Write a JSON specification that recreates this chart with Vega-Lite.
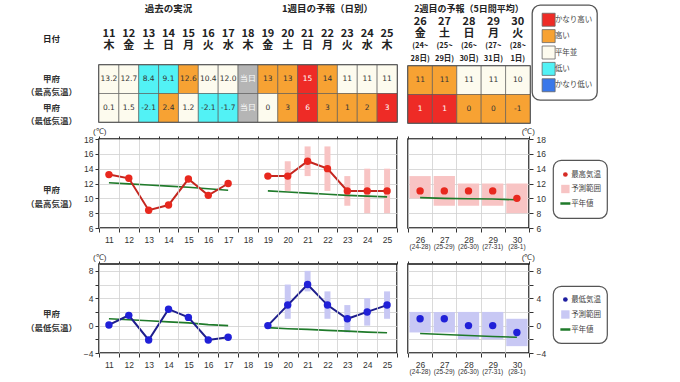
{
"$schema":"https://vega.github.io/schema/vega-lite/v6.json",
"background":"white",
"padding":{"left":24,"top":0,"right":0,"bottom":0},
"config":{
 "font":"Noto Sans CJK JP",
 "view":{"stroke":null},
 "axis":{"labelFont":"Liberation Sans","labelColor":"#333","titleFont":"Noto Sans CJK JP","tickColor":"#333","gridColor":"#d0d0d0","gridWidth":0.8,"labelOverlap":false},
 "title":{"font":"Liberation Sans"}
},
"spacing":1,
"vconcat":[
 {"spacing":-6,"hconcat":[
  {"spacing":7,"hconcat":[
   {"spacing":1,"vconcat":[
    {"width":298,"height":62,
     "data":{"values":[
      {"day":"14","line":"l0","t":"過去の実況"},{"day":"22","line":"l0","t":"1週目の予報（日別）"},
      {"day":"11","line":"l2","t":"11"},{"day":"11","line":"l3","t":"木"},
      {"day":"12","line":"l2","t":"12"},{"day":"12","line":"l3","t":"金"},
      {"day":"13","line":"l2","t":"13"},{"day":"13","line":"l3","t":"土"},
      {"day":"14","line":"l2","t":"14"},{"day":"14","line":"l3","t":"日"},
      {"day":"15","line":"l2","t":"15"},{"day":"15","line":"l3","t":"月"},
      {"day":"16","line":"l2","t":"16"},{"day":"16","line":"l3","t":"火"},
      {"day":"17","line":"l2","t":"17"},{"day":"17","line":"l3","t":"水"},
      {"day":"18","line":"l2","t":"18"},{"day":"18","line":"l3","t":"木"},
      {"day":"19","line":"l2","t":"19"},{"day":"19","line":"l3","t":"金"},
      {"day":"20","line":"l2","t":"20"},{"day":"20","line":"l3","t":"土"},
      {"day":"21","line":"l2","t":"21"},{"day":"21","line":"l3","t":"日"},
      {"day":"22","line":"l2","t":"22"},{"day":"22","line":"l3","t":"月"},
      {"day":"23","line":"l2","t":"23"},{"day":"23","line":"l3","t":"火"},
      {"day":"24","line":"l2","t":"24"},{"day":"24","line":"l3","t":"水"},
      {"day":"25","line":"l2","t":"25"},{"day":"25","line":"l3","t":"木"}]},
     "mark":{"type":"text","fontWeight":"bold","color":"#222","dy":3},
     "encoding":{
      "x":{"field":"day","type":"ordinal","scale":{"type":"band","domain":["11","12","13","14","15","16","17","18","19","20","21","22","23","24","25"],"paddingInner":0,"paddingOuter":0},"axis":null},
      "y":{"field":"line","type":"nominal","scale":{"type":"point","domain":["l0","l1","l2","l3","l4"],"padding":0.5},
           "axis":{"values":["l2"],"labelExpr":"'日付'","ticks":false,"domain":false,"labelAlign":"center","labelPadding":48,"labelOffset":7,"labelFontSize":8.5,"labelFontWeight":"bold","labelFont":"Noto Sans CJK JP","labelColor":"#222","title":null}},
      "text":{"field":"t"},
      "size":{"condition":{"test":"datum.line=='l0'","value":9.5},"value":11}}},
    {"width":298,"height":57,
     "view":{"stroke":"#333","strokeWidth":1.5},
     "data":{"values":[
      {"day":"11","row":"max","label":"13.2","cat":"平年並"},{"day":"12","row":"max","label":"12.7","cat":"平年並"},
      {"day":"13","row":"max","label":"8.4","cat":"低い"},{"day":"14","row":"max","label":"9.1","cat":"低い"},
      {"day":"15","row":"max","label":"12.6","cat":"高い"},{"day":"16","row":"max","label":"10.4","cat":"平年並"},
      {"day":"17","row":"max","label":"12.0","cat":"平年並"},{"day":"18","row":"max","label":"当日","cat":"当日"},
      {"day":"19","row":"max","label":"13","cat":"高い"},{"day":"20","row":"max","label":"13","cat":"高い"},
      {"day":"21","row":"max","label":"15","cat":"かなり高い"},{"day":"22","row":"max","label":"14","cat":"高い"},
      {"day":"23","row":"max","label":"11","cat":"平年並"},{"day":"24","row":"max","label":"11","cat":"平年並"},
      {"day":"25","row":"max","label":"11","cat":"平年並"},
      {"day":"11","row":"min","label":"0.1","cat":"平年並"},{"day":"12","row":"min","label":"1.5","cat":"平年並"},
      {"day":"13","row":"min","label":"-2.1","cat":"低い"},{"day":"14","row":"min","label":"2.4","cat":"高い"},
      {"day":"15","row":"min","label":"1.2","cat":"平年並"},{"day":"16","row":"min","label":"-2.1","cat":"低い"},
      {"day":"17","row":"min","label":"-1.7","cat":"低い"},{"day":"18","row":"min","label":"当日","cat":"当日"},
      {"day":"19","row":"min","label":"0","cat":"平年並"},{"day":"20","row":"min","label":"3","cat":"高い"},
      {"day":"21","row":"min","label":"6","cat":"かなり高い"},{"day":"22","row":"min","label":"3","cat":"高い"},
      {"day":"23","row":"min","label":"1","cat":"高い"},{"day":"24","row":"min","label":"2","cat":"高い"},
      {"day":"25","row":"min","label":"3","cat":"かなり高い"}]},
     "encoding":{
      "x":{"field":"day","type":"ordinal","scale":{"type":"band","domain":["11","12","13","14","15","16","17","18","19","20","21","22","23","24","25"],"paddingInner":0,"paddingOuter":0},"axis":null},
      "y":{"field":"row","type":"nominal","scale":{"type":"band","domain":["max","min"],"paddingInner":0,"paddingOuter":0},
           "axis":{"labelExpr":"datum.value=='max' ? ['甲府','（最高気温）'] : ['甲府','（最低気温）']","ticks":false,"domain":false,"labelAlign":"center","labelBaseline":"middle","labelPadding":48,"labelFontSize":8.5,"labelFontWeight":"bold","labelFont":"Noto Sans CJK JP","labelColor":"#333","labelLineHeight":13,"title":null}}},
     "layer":[
      {"mark":{"type":"rect","stroke":"#555","strokeWidth":0.6},
       "encoding":{"fill":{"field":"cat","type":"nominal","scale":{"domain":["かなり高い","高い","平年並","低い","かなり低い","当日"],"range":["#ee2b26","#f7a233","#fdfbee","#52f2f5","#3a78ea","#b5b5b5"]},"legend":null}}},
      {"mark":{"type":"text","fontSize":7.5,"font":"DejaVu Sans"},
       "encoding":{"text":{"field":"label"},"color":{"condition":{"test":"datum.cat=='かなり高い' || datum.cat=='当日'","value":"white"},"value":"#333"}}}
     ]}
   ]},
   {"spacing":1,"vconcat":[
    {"width":122,"height":62,
     "data":{"values":[
      {"day":"28","line":"l0","t":"2週目の予報（5日間平均）"},
      {"day":"26","line":"l1","t":"26"},{"day":"26","line":"l2","t":"金"},{"day":"26","line":"l3","t":"(24~"},{"day":"26","line":"l4","t":"28日)"},
      {"day":"27","line":"l1","t":"27"},{"day":"27","line":"l2","t":"土"},{"day":"27","line":"l3","t":"(25~"},{"day":"27","line":"l4","t":"29日)"},
      {"day":"28","line":"l1","t":"28"},{"day":"28","line":"l2","t":"日"},{"day":"28","line":"l3","t":"(26~"},{"day":"28","line":"l4","t":"30日)"},
      {"day":"29","line":"l1","t":"29"},{"day":"29","line":"l2","t":"月"},{"day":"29","line":"l3","t":"(27~"},{"day":"29","line":"l4","t":"31日)"},
      {"day":"30","line":"l1","t":"30"},{"day":"30","line":"l2","t":"火"},{"day":"30","line":"l3","t":"(28~"},{"day":"30","line":"l4","t":"1日)"}]},
     "mark":{"type":"text","fontWeight":"bold","color":"#222","dy":3},
     "encoding":{
      "x":{"field":"day","type":"ordinal","scale":{"type":"band","domain":["26","27","28","29","30"],"paddingInner":0,"paddingOuter":0},"axis":null},
      "y":{"field":"line","type":"nominal","scale":{"type":"point","domain":["l0","l1","l2","l3","l4"],"padding":0.5},"axis":null},
      "text":{"field":"t"},
      "size":{"condition":[{"test":"datum.line=='l0'","value":9},{"test":"datum.line=='l3' || datum.line=='l4'","value":7.5}],"value":11}}},
    {"width":122,"height":57,
     "view":{"stroke":"#333","strokeWidth":1.5},
     "data":{"values":[
      {"day":"26","row":"max","label":"11","cat":"高い"},{"day":"27","row":"max","label":"11","cat":"高い"},
      {"day":"28","row":"max","label":"11","cat":"平年並"},{"day":"29","row":"max","label":"11","cat":"平年並"},
      {"day":"30","row":"max","label":"10","cat":"平年並"},
      {"day":"26","row":"min","label":"1","cat":"かなり高い"},{"day":"27","row":"min","label":"1","cat":"かなり高い"},
      {"day":"28","row":"min","label":"0","cat":"高い"},{"day":"29","row":"min","label":"0","cat":"高い"},
      {"day":"30","row":"min","label":"-1","cat":"高い"}]},
     "encoding":{
      "x":{"field":"day","type":"ordinal","scale":{"type":"band","domain":["26","27","28","29","30"],"paddingInner":0,"paddingOuter":0},"axis":null},
      "y":{"field":"row","type":"nominal","scale":{"type":"band","domain":["max","min"],"paddingInner":0,"paddingOuter":0},"axis":null}},
     "layer":[
      {"mark":{"type":"rect","stroke":"#555","strokeWidth":0.6},
       "encoding":{"fill":{"field":"cat","type":"nominal","scale":{"domain":["かなり高い","高い","平年並","低い","かなり低い","当日"],"range":["#ee2b26","#f7a233","#fdfbee","#52f2f5","#3a78ea","#b5b5b5"]},"legend":null}}},
      {"mark":{"type":"text","fontSize":7.5,"font":"DejaVu Sans"},
       "encoding":{"text":{"field":"label"},"color":{"condition":{"test":"datum.cat=='かなり高い' || datum.cat=='当日'","value":"white"},"value":"#333"}}}
     ]}
   ]}
  ]},
  {"spacing":0,"vconcat":[
   {"width":10,"height":4,"data":{"values":[]},"mark":"point"},
   {"width":65,"height":95,
    "view":{"stroke":"#555","strokeWidth":1.3,"cornerRadius":8,"fill":"white"},
    "data":{"values":[{"item":"かなり高い"},{"item":"高い"},{"item":"平年並"},{"item":"低い"},{"item":"かなり低い"}]},
    "encoding":{"y":{"field":"item","type":"nominal","scale":{"type":"point","domain":["かなり高い","高い","平年並","低い","かなり低い"],"padding":0.9},"axis":null}},
    "layer":[
     {"mark":{"type":"point","shape":"square","size":169,"filled":true,"stroke":"#666","strokeWidth":0.8,"opacity":1},
      "encoding":{"x":{"datum":"sw","type":"nominal","scale":{"type":"point","domain":["sw","lb"],"range":[13.5,26]},"axis":null},
                  "fill":{"field":"item","type":"nominal","scale":{"domain":["かなり高い","高い","平年並","低い","かなり低い"],"range":["#ee2b26","#f7a233","#fdfbee","#52f2f5","#3a78ea"]},"legend":null}}},
     {"mark":{"type":"text","align":"left","fontSize":7.5,"color":"#444"},
      "encoding":{"x":{"datum":"lb","type":"nominal"},"text":{"field":"item"}}}
    ]}
  ]}
 ]},
 {"spacing":1,"vconcat":[
  {"spacing":5,"hconcat":[
   {"spacing":7,"hconcat":[
    {"width":298,"height":89,
     "view":{"stroke":"#111","strokeWidth":1.5},
     "title":{"text":"(℃)","anchor":"start","frame":"group","fontSize":8,"fontWeight":"normal","offset":-1,"dx":-6,"color":"#333"},
     "resolve":{"axis":{"x":"independent"}},
     "encoding":{
      "x":{"field":"day","type":"ordinal","scale":{"type":"band","domain":["11","12","13","14","15","16","17","18","19","20","21","22","23","24","25"],"paddingInner":0,"paddingOuter":0},"axis":null},
      "y":{"field":"v","type":"quantitative","scale":{"domain":[6,18],"nice":false,"zero":false},
       "axis":{"title":["甲府","（最高気温）"],"values":[6,8,10,12,14,16,18],"tickCount":7,"grid":true,"domain":false,"tickSize":4,"labelFontSize":8.5,"labelPadding":2,
               "titleAngle":0,"titleX":-48,"titleY":50,"titleAlign":"center","titleBaseline":"middle","titleFontSize":8.5,"titleFontWeight":"bold","titleColor":"#333","titleLineHeight":14}}},
     "layer":[
      {"data":{"values":[{"day":"18"}]},"mark":{"type":"rect","color":"#a9a9a9","opacity":1},
       "encoding":{
        "x":{"field":"day","type":"ordinal","scale":{"type":"band","domain":["11","12","13","14","15","16","17","18","19","20","21","22","23","24","25"],"paddingInner":0,"paddingOuter":0},
         "axis":{"title":null,"tickBand":"extent","grid":true,"domain":false,"tickSize":4,"labelAngle":0,"labelFontSize":8.5,"labelPadding":3}},
        "y":{"datum":18,"type":"quantitative"},"y2":{"datum":6}}},
      {"data":{"values":[
        {"day":"20","v":11,"hi":15},{"day":"21","v":13,"hi":17},{"day":"22","v":11,"hi":17},
        {"day":"23","v":9,"hi":13},{"day":"24","v":8,"hi":14},{"day":"25","v":8,"hi":14}]},
       "mark":{"type":"bar","width":6,"color":"#f8c4c4","opacity":1},
       "encoding":{
        "x":{"field":"day","type":"ordinal","scale":{"type":"band","domain":["11","12","13","14","15","16","17","18","19","20","21","22","23","24","25"],"paddingInner":0,"paddingOuter":0},
         "axis":{"orient":"top","title":null,"tickBand":"extent","labels":false,"grid":false,"domain":false,"tickSize":3}},
        "y2":{"field":"hi"}}},
      {"data":{"values":[
        {"day":"11","v":12.1,"seg":"a"},{"day":"12","v":11.95,"seg":"a"},{"day":"13","v":11.8,"seg":"a"},{"day":"14","v":11.65,"seg":"a"},
        {"day":"15","v":11.5,"seg":"a"},{"day":"16","v":11.3,"seg":"a"},{"day":"17","v":11.1,"seg":"a"},
        {"day":"19","v":11.0,"seg":"b"},{"day":"20","v":10.85,"seg":"b"},{"day":"21","v":10.7,"seg":"b"},{"day":"22","v":10.55,"seg":"b"},
        {"day":"23","v":10.4,"seg":"b"},{"day":"24","v":10.3,"seg":"b"},{"day":"25","v":10.2,"seg":"b"}]},
       "mark":{"type":"line","color":"#1f7a2a","strokeWidth":1.6},
       "encoding":{"detail":{"field":"seg"}}},
      {"data":{"values":[
        {"day":"11","v":13.2,"seg":"a"},{"day":"12","v":12.7,"seg":"a"},{"day":"13","v":8.4,"seg":"a"},{"day":"14","v":9.1,"seg":"a"},
        {"day":"15","v":12.6,"seg":"a"},{"day":"16","v":10.4,"seg":"a"},{"day":"17","v":12.0,"seg":"a"},
        {"day":"19","v":13,"seg":"b"},{"day":"20","v":13,"seg":"b"},{"day":"21","v":15,"seg":"b"},{"day":"22","v":14,"seg":"b"},
        {"day":"23","v":11,"seg":"b"},{"day":"24","v":11,"seg":"b"},{"day":"25","v":11,"seg":"b"}]},
       "layer":[
        {"mark":{"type":"line","color":"#c4261f","strokeWidth":2},"encoding":{"detail":{"field":"seg"}}},
        {"mark":{"type":"point","filled":true,"size":55,"color":"#e8281e","opacity":1}}
       ]}
     ]},
    {"width":121,"height":89,
     "view":{"stroke":"#111","strokeWidth":1.5},
     "title":{"text":"(℃)","anchor":"end","frame":"group","fontSize":8,"fontWeight":"normal","offset":-1,"dx":6,"color":"#333"},
     "resolve":{"axis":{"x":"independent"}},
     "encoding":{
      "y":{"field":"v","type":"quantitative","scale":{"domain":[6,18],"nice":false,"zero":false},
       "axis":{"orient":"right","title":null,"values":[6,8,10,12,14,16,18],"tickCount":7,"grid":true,"domain":false,"tickSize":4,"labelFontSize":8.5,"labelPadding":3}}},
     "layer":[
      {"data":{"values":[
        {"day":"26","v":10,"hi":13},{"day":"27","v":9,"hi":13},{"day":"28","v":9,"hi":12},{"day":"29","v":9,"hi":12},{"day":"30","v":8,"hi":12}]},
       "mark":{"type":"bar","width":{"band":0.88},"color":"#f8c4c4","opacity":1},
       "encoding":{
        "x":{"field":"day","type":"ordinal","scale":{"type":"band","domain":["26","27","28","29","30"],"paddingInner":0,"paddingOuter":0},
             "axis":{"title":null,"tickBand":"extent","grid":true,"domain":false,"tickSize":4,"labelAngle":0,"labelFontSize":8.5,"labelPadding":3}},
        "y2":{"field":"hi"}}},
      {"data":{"values":[{"day":"26","v":10.1},{"day":"27","v":10.0},{"day":"28","v":9.95},{"day":"29","v":9.9},{"day":"30","v":9.8}]},
       "mark":{"type":"line","color":"#1f7a2a","strokeWidth":1.6},
       "encoding":{
        "x":{"field":"day","type":"ordinal","scale":{"type":"band","domain":["26","27","28","29","30"],"paddingInner":0,"paddingOuter":0},
             "axis":{"orient":"bottom","title":null,"labelExpr":"{'26':'(24-28)','27':'(25-29)','28':'(26-30)','29':'(27-31)','30':'(28-1)'}[datum.value]","ticks":false,"domain":false,"grid":false,"labelFontSize":6.5,"labelPadding":15,"labelAngle":0}}}},
      {"data":{"values":[{"day":"26","v":11},{"day":"27","v":11},{"day":"28","v":11},{"day":"29","v":11},{"day":"30","v":10}]},
       "mark":{"type":"point","filled":true,"size":55,"color":"#e8281e","opacity":1},
       "encoding":{
        "x":{"field":"day","type":"ordinal","scale":{"type":"band","domain":["26","27","28","29","30"],"paddingInner":0,"paddingOuter":0},
             "axis":{"orient":"top","title":null,"tickBand":"extent","labels":false,"grid":false,"domain":false,"tickSize":3}}}}
     ]}
   ]},
   {"spacing":0,"vconcat":[
    {"width":10,"height":20,"data":{"values":[]},"mark":"point"},
    {"width":54,"height":58,
     "view":{"stroke":"#555","strokeWidth":1.2,"cornerRadius":8,"fill":"white"},
     "data":{"values":[{"item":"最高気温"},{"item":"予測範囲"},{"item":"平年値"}]},
     "encoding":{"y":{"field":"item","type":"nominal","scale":{"type":"point","domain":["最高気温","予測範囲","平年値"],"padding":1.07},"axis":null}},
     "layer":[
      {"transform":[{"filter":"datum.item=='最高気温'"}],"mark":{"type":"point","shape":"circle","filled":true,"size":22,"color":"#d62a24","opacity":1},
       "encoding":{"x":{"datum":"sw","type":"nominal","scale":{"type":"point","domain":["sw","lb"],"range":[9.5,21]},"axis":null}}},
      {"transform":[{"filter":"datum.item=='予測範囲'"}],"mark":{"type":"point","shape":"square","filled":true,"size":70,"color":"#f7c4c4","opacity":1},
       "encoding":{"x":{"datum":"sw","type":"nominal"}}},
      {"transform":[{"filter":"datum.item=='平年値'"}],"mark":{"type":"point","shape":"stroke","filled":false,"size":100,"color":"#1f7a2a","strokeWidth":2.5,"opacity":1},
       "encoding":{"x":{"datum":"sw","type":"nominal"}}},
      {"mark":{"type":"text","align":"left","fontSize":7.5,"color":"#444"},
       "encoding":{"x":{"datum":"lb","type":"nominal"},"text":{"field":"item"}}}
     ]}
   ]}
  ]},
  {"spacing":5,"hconcat":[
   {"spacing":7,"hconcat":[
    {"width":298,"height":89,
     "view":{"stroke":"#111","strokeWidth":1.5},
     "title":{"text":"(℃)","anchor":"start","frame":"group","fontSize":8,"fontWeight":"normal","offset":-1,"dx":-6,"color":"#333"},
     "resolve":{"axis":{"x":"independent"}},
     "encoding":{
      "x":{"field":"day","type":"ordinal","scale":{"type":"band","domain":["11","12","13","14","15","16","17","18","19","20","21","22","23","24","25"],"paddingInner":0,"paddingOuter":0},"axis":null},
      "y":{"field":"v","type":"quantitative","scale":{"domain":[-4,9],"nice":false,"zero":false},
       "axis":{"title":["甲府","（最低気温）"],"values":[-4,-2,0,2,4,6,8],"tickCount":7,"labelExpr":"datum.value % 4 == 0 ? datum.label : ''","grid":true,"domain":false,"tickSize":4,"labelFontSize":8.5,"labelPadding":2,
               "titleAngle":0,"titleX":-48,"titleY":49,"titleAlign":"center","titleBaseline":"middle","titleFontSize":8.5,"titleFontWeight":"bold","titleColor":"#333","titleLineHeight":14}}},
     "layer":[
      {"data":{"values":[{"day":"18"}]},"mark":{"type":"rect","color":"#a9a9a9","opacity":1},
       "encoding":{
        "x":{"field":"day","type":"ordinal","scale":{"type":"band","domain":["11","12","13","14","15","16","17","18","19","20","21","22","23","24","25"],"paddingInner":0,"paddingOuter":0},
         "axis":{"title":null,"tickBand":"extent","grid":true,"domain":false,"tickSize":4,"labelAngle":0,"labelFontSize":8.5,"labelPadding":3}},
        "y":{"datum":9,"type":"quantitative"},"y2":{"datum":-4}}},
      {"data":{"values":[
        {"day":"20","v":1,"hi":6},{"day":"21","v":5,"hi":8},{"day":"22","v":1,"hi":5},
        {"day":"23","v":-1,"hi":3},{"day":"24","v":0,"hi":4},{"day":"25","v":1,"hi":5}]},
       "mark":{"type":"bar","width":6,"color":"#c8c8f4","opacity":1},
       "encoding":{
        "x":{"field":"day","type":"ordinal","scale":{"type":"band","domain":["11","12","13","14","15","16","17","18","19","20","21","22","23","24","25"],"paddingInner":0,"paddingOuter":0},
         "axis":{"orient":"top","title":null,"tickBand":"extent","labels":false,"grid":false,"domain":false,"tickSize":3}},
        "y2":{"field":"hi"}}},
      {"data":{"values":[
        {"day":"11","v":1.0,"seg":"a"},{"day":"12","v":0.85,"seg":"a"},{"day":"13","v":0.7,"seg":"a"},{"day":"14","v":0.55,"seg":"a"},
        {"day":"15","v":0.4,"seg":"a"},{"day":"16","v":0.15,"seg":"a"},{"day":"17","v":0.0,"seg":"a"},
        {"day":"19","v":-0.3,"seg":"b"},{"day":"20","v":-0.45,"seg":"b"},{"day":"21","v":-0.55,"seg":"b"},{"day":"22","v":-0.7,"seg":"b"},
        {"day":"23","v":-0.8,"seg":"b"},{"day":"24","v":-0.95,"seg":"b"},{"day":"25","v":-1.05,"seg":"b"}]},
       "mark":{"type":"line","color":"#1f7a2a","strokeWidth":1.6},
       "encoding":{"detail":{"field":"seg"}}},
      {"data":{"values":[
        {"day":"11","v":0.1,"seg":"a"},{"day":"12","v":1.5,"seg":"a"},{"day":"13","v":-2.1,"seg":"a"},{"day":"14","v":2.4,"seg":"a"},
        {"day":"15","v":1.2,"seg":"a"},{"day":"16","v":-2.1,"seg":"a"},{"day":"17","v":-1.7,"seg":"a"},
        {"day":"19","v":0,"seg":"b"},{"day":"20","v":3,"seg":"b"},{"day":"21","v":6,"seg":"b"},{"day":"22","v":3,"seg":"b"},
        {"day":"23","v":1,"seg":"b"},{"day":"24","v":2,"seg":"b"},{"day":"25","v":3,"seg":"b"}]},
       "layer":[
        {"mark":{"type":"line","color":"#1e1e8c","strokeWidth":2},"encoding":{"detail":{"field":"seg"}}},
        {"mark":{"type":"point","filled":true,"size":55,"color":"#2020d8","opacity":1}}
       ]}
     ]},
    {"width":121,"height":89,
     "view":{"stroke":"#111","strokeWidth":1.5},
     "title":{"text":"(℃)","anchor":"end","frame":"group","fontSize":8,"fontWeight":"normal","offset":-1,"dx":6,"color":"#333"},
     "resolve":{"axis":{"x":"independent"}},
     "encoding":{
      "y":{"field":"v","type":"quantitative","scale":{"domain":[-4,9],"nice":false,"zero":false},
       "axis":{"orient":"right","title":null,"values":[-4,-2,0,2,4,6,8],"tickCount":7,"labelExpr":"datum.value % 4 == 0 ? datum.label : ''","grid":true,"domain":false,"tickSize":4,"labelFontSize":8.5,"labelPadding":3}}},
     "layer":[
      {"data":{"values":[
        {"day":"26","v":-1,"hi":2},{"day":"27","v":-1,"hi":2},{"day":"28","v":-2,"hi":2},{"day":"29","v":-2,"hi":2},{"day":"30","v":-3,"hi":1}]},
       "mark":{"type":"bar","width":{"band":0.88},"color":"#c8c8f4","opacity":1},
       "encoding":{
        "x":{"field":"day","type":"ordinal","scale":{"type":"band","domain":["26","27","28","29","30"],"paddingInner":0,"paddingOuter":0},
             "axis":{"title":null,"tickBand":"extent","grid":true,"domain":false,"tickSize":4,"labelAngle":0,"labelFontSize":8.5,"labelPadding":3}},
        "y2":{"field":"hi"}}},
      {"data":{"values":[{"day":"26","v":-1.15},{"day":"27","v":-1.3},{"day":"28","v":-1.45},{"day":"29","v":-1.6},{"day":"30","v":-1.7}]},
       "mark":{"type":"line","color":"#1f7a2a","strokeWidth":1.6},
       "encoding":{
        "x":{"field":"day","type":"ordinal","scale":{"type":"band","domain":["26","27","28","29","30"],"paddingInner":0,"paddingOuter":0},
             "axis":{"orient":"bottom","title":null,"labelExpr":"{'26':'(24-28)','27':'(25-29)','28':'(26-30)','29':'(27-31)','30':'(28-1)'}[datum.value]","ticks":false,"domain":false,"grid":false,"labelFontSize":6.5,"labelPadding":15,"labelAngle":0}}}},
      {"data":{"values":[{"day":"26","v":1},{"day":"27","v":1},{"day":"28","v":0},{"day":"29","v":0},{"day":"30","v":-1}]},
       "mark":{"type":"point","filled":true,"size":55,"color":"#2020d8","opacity":1},
       "encoding":{
        "x":{"field":"day","type":"ordinal","scale":{"type":"band","domain":["26","27","28","29","30"],"paddingInner":0,"paddingOuter":0},
             "axis":{"orient":"top","title":null,"tickBand":"extent","labels":false,"grid":false,"domain":false,"tickSize":3}}}}
     ]}
   ]},
   {"spacing":0,"vconcat":[
    {"width":10,"height":21,"data":{"values":[]},"mark":"point"},
    {"width":54,"height":57,
     "view":{"stroke":"#555","strokeWidth":1.2,"cornerRadius":8,"fill":"white"},
     "data":{"values":[{"item":"最低気温"},{"item":"予測範囲"},{"item":"平年値"}]},
     "encoding":{"y":{"field":"item","type":"nominal","scale":{"type":"point","domain":["最低気温","予測範囲","平年値"],"padding":0.9},"axis":null}},
     "layer":[
      {"transform":[{"filter":"datum.item=='最低気温'"}],"mark":{"type":"point","shape":"circle","filled":true,"size":22,"color":"#1e1ea0","opacity":1},
       "encoding":{"x":{"datum":"sw","type":"nominal","scale":{"type":"point","domain":["sw","lb"],"range":[9.5,21]},"axis":null}}},
      {"transform":[{"filter":"datum.item=='予測範囲'"}],"mark":{"type":"point","shape":"square","filled":true,"size":70,"color":"#c8c8f4","opacity":1},
       "encoding":{"x":{"datum":"sw","type":"nominal"}}},
      {"transform":[{"filter":"datum.item=='平年値'"}],"mark":{"type":"point","shape":"stroke","filled":false,"size":100,"color":"#1f7a2a","strokeWidth":2.5,"opacity":1},
       "encoding":{"x":{"datum":"sw","type":"nominal"}}},
      {"mark":{"type":"text","align":"left","fontSize":7.5,"color":"#444"},
       "encoding":{"x":{"datum":"lb","type":"nominal"},"text":{"field":"item"}}}
     ]}
   ]}
  ]}
 ]}
]
}
